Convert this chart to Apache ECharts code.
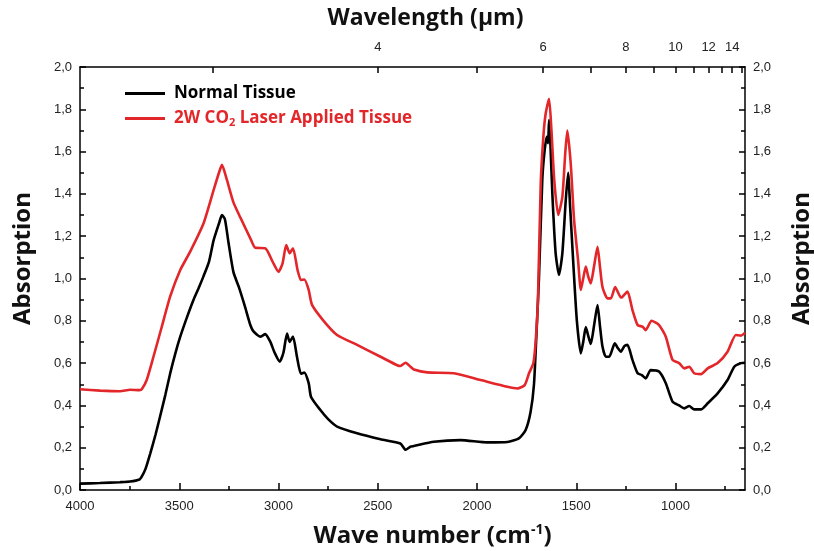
<!DOCTYPE html>
<html>
<head>
<meta charset="utf-8">
<script src="https://cdn.jsdelivr.net/npm/echarts@6/dist/echarts.min.js"></script>
<style>
  html, body { margin: 0; padding: 0; background: #fff; }
  #chart { width: 814px; height: 551px; }
</style>
</head>
<body>
<div id="chart"></div>
<script>
// wave numbers (cm-1) and absorption
const normalWn = [4000, 3900, 3800, 3748, 3700, 3689, 3670, 3647, 3620, 3596, 3570, 3546, 3520, 3495, 3460, 3428, 3400, 3378, 3350, 3327, 3300, 3285, 3270, 3252, 3227, 3200, 3170, 3142, 3126, 3092, 3067, 3041, 3020, 2994, 2975, 2957, 2944, 2927, 2907, 2887, 2870, 2848, 2836, 2789, 2750, 2705, 2604, 2486, 2386, 2360, 2335, 2318, 2218, 2083, 1948, 1847, 1789, 1755, 1730, 1713, 1700, 1688, 1671, 1660, 1649, 1642, 1637, 1630, 1620, 1604, 1587, 1570, 1553, 1541, 1531, 1514, 1497, 1477, 1465, 1452, 1440, 1427, 1410, 1393, 1380, 1368, 1351, 1334, 1306, 1290, 1275, 1258, 1242, 1217, 1191, 1171, 1150, 1125, 1083, 1049, 1015, 982, 956, 931, 906, 872, 838, 788, 738, 704, 670, 650];
const normalAbs = [0.030, 0.033, 0.037, 0.040, 0.050, 0.063, 0.10, 0.17, 0.26, 0.35, 0.45, 0.55, 0.645, 0.725, 0.82, 0.90, 0.96, 1.01, 1.08, 1.18, 1.26, 1.30, 1.28, 1.17, 1.03, 0.96, 0.87, 0.78, 0.75, 0.725, 0.737, 0.70, 0.65, 0.607, 0.65, 0.74, 0.70, 0.725, 0.63, 0.55, 0.555, 0.505, 0.44, 0.378, 0.335, 0.30, 0.268, 0.24, 0.22, 0.19, 0.205, 0.208, 0.228, 0.236, 0.225, 0.227, 0.244, 0.284, 0.37, 0.50, 0.75, 1.00, 1.47, 1.60, 1.67, 1.64, 1.75, 1.63, 1.39, 1.12, 1.017, 1.12, 1.37, 1.50, 1.34, 1.056, 0.80, 0.646, 0.70, 0.77, 0.73, 0.69, 0.78, 0.875, 0.77, 0.678, 0.63, 0.63, 0.694, 0.67, 0.654, 0.68, 0.686, 0.615, 0.552, 0.544, 0.528, 0.567, 0.56, 0.505, 0.418, 0.40, 0.386, 0.397, 0.381, 0.381, 0.41, 0.457, 0.52, 0.583, 0.60, 0.602];

const laserWn = [4000, 3899, 3798, 3748, 3700, 3689, 3664, 3630, 3588, 3546, 3495, 3445, 3378, 3327, 3300, 3285, 3260, 3227, 3193, 3142, 3117, 3067, 3030, 3000, 2980, 2961, 2944, 2927, 2904, 2887, 2870, 2848, 2831, 2773, 2705, 2604, 2486, 2402, 2386, 2360, 2335, 2318, 2251, 2117, 1982, 1847, 1797, 1760, 1738, 1716, 1704, 1693, 1679, 1665, 1654, 1637, 1625, 1611, 1591, 1570, 1555, 1545, 1528, 1511, 1491, 1477, 1465, 1452, 1440, 1427, 1410, 1393, 1380, 1368, 1343, 1326, 1304, 1275, 1267, 1242, 1217, 1191, 1166, 1150, 1121, 1083, 1049, 1015, 982, 956, 931, 906, 872, 838, 788, 738, 696, 670, 650];
const laserAbs = [0.476, 0.47, 0.467, 0.474, 0.472, 0.476, 0.52, 0.63, 0.772, 0.914, 1.04, 1.127, 1.26, 1.418, 1.50, 1.537, 1.466, 1.36, 1.29, 1.19, 1.145, 1.143, 1.08, 1.032, 1.07, 1.158, 1.12, 1.143, 1.04, 0.993, 0.995, 0.946, 0.875, 0.80, 0.733, 0.686, 0.63, 0.59, 0.586, 0.602, 0.583, 0.57, 0.556, 0.552, 0.52, 0.488, 0.48, 0.496, 0.552, 0.60, 0.71, 0.90, 1.45, 1.68, 1.78, 1.85, 1.70, 1.466, 1.30, 1.387, 1.60, 1.70, 1.545, 1.277, 1.087, 0.946, 1.00, 1.056, 1.01, 0.977, 1.06, 1.15, 1.05, 0.96, 0.906, 0.906, 0.96, 0.91, 0.914, 0.938, 0.851, 0.78, 0.772, 0.756, 0.80, 0.78, 0.725, 0.615, 0.60, 0.575, 0.583, 0.552, 0.548, 0.575, 0.60, 0.654, 0.733, 0.73, 0.744];

// axis ticks
const wnLabels = [4000, 3500, 3000, 2500, 2000, 1500, 1000];
const wnMinor = [3750, 3250, 2750, 2250, 1750, 1250, 750];
const umTicks = [3, 4, 5, 6, 7, 8, 9, 10, 11, 12, 13, 14, 15];
const umLabels = [4, 6, 8, 10, 12, 14];

const seriesNames = ["Normal Tissue", "2W CO2 Laser Applied Tissue"];
const colors = ["#000000", "#e3262a"];

const toPairs = (xs, ys) => xs.map((x, i) => [x, ys[i]]);
const comma = (v) => v.toFixed(1).replace(".", ",");

const tickFont = { fontFamily: "Liberation Sans", fontSize: 13, color: "#222" };
const titleFont = { fontFamily: "Open Sans", fontWeight: "bold", fontSize: 24, color: "#111" };

const chart = echarts.init(document.getElementById("chart"));

const yBase = {
  type: "value",
  min: 0,
  max: 2,
  interval: 0.2,
  name: "Absorption",
  nameLocation: "middle",
  nameRotate: 90,
  nameGap: 45,
  nameTextStyle: Object.assign({}, titleFont, { padding: [0, 0, 0, 40] }),
  axisLine: { show: true, lineStyle: { color: "#000", width: 1.5 } },
  axisTick: { inside: true, length: 6, lineStyle: { color: "#000", width: 1.5 } },
  minorTick: { show: true, splitNumber: 2, length: 4, lineStyle: { color: "#000", width: 1.5 } },
  splitLine: { show: false },
  axisLabel: Object.assign({ formatter: comma, margin: 8 }, tickFont),
};

chart.setOption({
  animation: false,
  backgroundColor: "#fff",
  grid: { left: 80, right: 69, top: 67, bottom: 61, outerBoundsMode: "none", containLabel: false },
  legend: {
    orient: "vertical",
    left: 120,
    top: 80,
    icon: "rect",
    itemWidth: 40,
    itemHeight: 3,
    itemGap: 8,
    data: seriesNames.map((n, i) => ({ name: n, textStyle: { color: colors[i] } })),
    formatter: (n) => n.replace("CO2", "CO{sub|2}"),
    textStyle: {
      fontFamily: "Open Sans",
      fontWeight: "bold",
      fontSize: 17,
      padding: [0, 0, 0, 4],
      rich: { sub: { fontFamily: "Open Sans", fontWeight: "bold", fontSize: 11, padding: [9, 0, 0, 0] } },
    },
  },
  xAxis: [
    {
      type: "value",
      position: "bottom",
      min: 650,
      max: 4000,
      inverse: true,
      name: "Wave number (cm{sup|-1})",
      nameLocation: "middle",
      nameGap: 33,
      nameTextStyle: Object.assign({}, titleFont, {
        padding: [0, 0, 0, 40],
        rich: { sup: { fontFamily: "Open Sans", fontWeight: "bold", fontSize: 14, padding: [0, 0, 13, 0] } },
      }),
      axisLine: { show: true, onZero: false, lineStyle: { color: "#000", width: 1.5 } },
      axisTick: { inside: true, length: 7, customValues: wnLabels, lineStyle: { color: "#000", width: 1.5 } },
      axisLabel: Object.assign({ customValues: wnLabels, formatter: (v) => String(v), margin: 10 }, tickFont),
      splitLine: { show: false },
    },
    {
      // minor ticks on the bottom axis
      type: "value",
      position: "bottom",
      min: 650,
      max: 4000,
      inverse: true,
      axisLine: { show: false, onZero: false },
      axisTick: { inside: true, length: 4, customValues: wnMinor, lineStyle: { color: "#000", width: 1.5 } },
      axisLabel: { show: false },
      splitLine: { show: false },
    },
    {
      // wavelength axis on top
      type: "value",
      position: "top",
      min: 650,
      max: 4000,
      inverse: true,
      name: "Wavelength (µm)",
      nameLocation: "middle",
      nameGap: 37,
      nameTextStyle: Object.assign({}, titleFont, { fontSize: 23, padding: [0, 0, 0, 26] }),
      axisLine: { show: true, onZero: false, lineStyle: { color: "#000", width: 1.5 } },
      axisTick: { inside: true, length: 6, customValues: umTicks.map((u) => 10000 / u), lineStyle: { color: "#000", width: 1.5 } },
      axisLabel: Object.assign({
        customValues: umLabels.map((u) => 10000 / u),
        formatter: (v) => String(Math.round(10000 / v)),
        margin: 13,
      }, tickFont),
      splitLine: { show: false },
    },
  ],
  yAxis: [
    Object.assign({}, yBase, { position: "left" }),
    Object.assign({}, yBase, { position: "right" }),
  ],
  series: [
    {
      name: seriesNames[0],
      type: "line",
      data: toPairs(normalWn, normalAbs),
      showSymbol: false,
      smooth: 0.2,
      lineStyle: { color: colors[0], width: 2.6 },
      itemStyle: { color: colors[0] },
    },
    {
      name: seriesNames[1],
      type: "line",
      data: toPairs(laserWn, laserAbs),
      showSymbol: false,
      smooth: 0.2,
      lineStyle: { color: colors[1], width: 2.6 },
      itemStyle: { color: colors[1] },
    },
  ],
});
</script>
</body>
</html>
